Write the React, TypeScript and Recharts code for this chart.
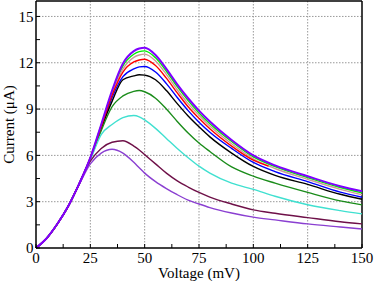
import React from 'react';
import { LineChart, Line, XAxis, YAxis, CartesianGrid, ReferenceLine } from 'recharts';

const voltage = [0, 5, 10, 15, 20, 25, 30, 35, 40, 45, 47.5, 50, 55, 60, 65, 70, 75, 80, 90, 100, 110, 125, 140, 150];
const redVoltage = [0, 5, 10, 15, 20, 25, 30, 35, 40, 45, 47.5, 50, 55, 60, 65, 70, 75, 80, 90, 100, 107];

const purple = [0, 0.65, 1.6, 2.75, 4.2, 5.85, 8.0, 10.2, 11.95, 12.75, 12.92, 12.97, 12.5, 11.6, 10.6, 9.7, 8.9, 8.2, 7.0, 6.0, 5.35, 4.65, 4.0, 3.68];
const green = [0, 0.65, 1.6, 2.75, 4.2, 5.85, 7.95, 10.1, 11.8, 12.55, 12.72, 12.77, 12.32, 11.45, 10.45, 9.55, 8.75, 8.05, 6.9, 5.9, 5.27, 4.56, 3.92, 3.57];
const rosy = [0, 0.65, 1.6, 2.75, 4.2, 5.85, 7.9, 10.0, 11.6, 12.35, 12.5, 12.56, 12.12, 11.25, 10.25, 9.35, 8.6, 7.9, 6.75, 5.78, 5.15, 4.45, 3.8, 3.45];
const red = [0, 0.65, 1.6, 2.75, 4.2, 5.84, 7.85, 9.9, 11.4, 12.05, 12.18, 12.23, 11.82, 11.0, 10.05, 9.15, 8.4, 7.72, 6.6, 5.69, 5.3];
const blue = [0, 0.65, 1.6, 2.75, 4.2, 5.82, 7.8, 9.75, 11.1, 11.6, 11.73, 11.76, 11.4, 10.65, 9.75, 8.9, 8.15, 7.5, 6.45, 5.54, 4.95, 4.3, 3.62, 3.29];
const black = [0, 0.65, 1.6, 2.75, 4.2, 5.8, 7.75, 9.5, 10.9, 11.15, 11.22, 11.2, 10.9, 10.2, 9.35, 8.55, 7.85, 7.2, 6.15, 5.28, 4.7, 4.12, 3.48, 3.16];
const darkGreen = [0, 0.65, 1.6, 2.75, 4.2, 5.78, 7.6, 9.15, 9.85, 10.15, 10.2, 10.12, 9.7, 9.0, 8.2, 7.45, 6.8, 6.25, 5.25, 4.65, 4.2, 3.6, 3.05, 2.79];
const cyan = [0, 0.65, 1.6, 2.75, 4.2, 5.72, 7.35, 8.0, 8.45, 8.58, 8.5, 8.3, 7.75, 7.1, 6.45, 5.85, 5.3, 4.85, 4.2, 3.8, 3.35, 2.8, 2.42, 2.21];
const maroon = [0, 0.65, 1.6, 2.75, 4.18, 5.62, 6.45, 6.85, 6.95, 6.6, 6.35, 6.05, 5.45, 4.85, 4.35, 3.95, 3.6, 3.3, 2.85, 2.47, 2.25, 1.97, 1.7, 1.56];
const violet = [0, 0.65, 1.6, 2.75, 4.15, 5.45, 6.15, 6.4, 6.15, 5.55, 5.2, 4.85, 4.3, 3.85, 3.45, 3.1, 2.85, 2.62, 2.27, 2.0, 1.82, 1.56, 1.36, 1.23];

const xTicks = [0, 12.5, 25, 37.5, 50, 62.5, 75, 87.5, 100, 112.5, 125, 137.5, 150];
const xMajor = [25, 50, 75, 100, 125];
const yTicks = [0, 1.5, 3, 4.5, 6, 7.5, 9, 10.5, 12, 13.5, 15];
const yMajor = [3, 6, 9, 12, 15];

const build = (xs: number[], ys: number[]) => xs.map((v, i) => ({ v, i: ys[i] }));

const series = [
  { name: 'green', values: green, color: '#00ee00', width: 1.4 },
  { name: 'rosy', values: rosy, color: '#cc9999', width: 1.4 },
  { name: 'blue', values: blue, color: '#0000ff', width: 1.4 },
  { name: 'black', values: black, color: '#000000', width: 1.4 },
  { name: 'darkGreen', values: darkGreen, color: '#1a8c1a', width: 1.4 },
  { name: 'cyan', values: cyan, color: '#40e0d0', width: 1.4 },
  { name: 'maroon', values: maroon, color: '#6e1048', width: 1.4 },
  { name: 'violet', values: violet, color: '#8a3fd1', width: 1.4 },
];

const FONT = "'Liberation Serif', Tinos, 'Times New Roman', Times, 'DejaVu Serif', serif";
const textStyle = { fontFamily: FONT, fontSize: 15, fill: '#000' };

const XTick = (props: any) => {
  const { x, y, payload } = props;
  const v = payload.value;
  if (v % 25 !== 0) return null;
  return (
    <text x={x} y={y} dy="0.71em" textAnchor="middle" style={textStyle}>
      {v}
    </text>
  );
};

const YTick = (props: any) => {
  const { x, y, payload } = props;
  const v = payload.value;
  if (v % 3 !== 0) return null;
  return (
    <text x={x} y={y} dy="0.355em" textAnchor="end" style={textStyle}>
      {v}
    </text>
  );
};

export default function App() {
  const table = build(voltage, purple);
  return (
    <div style={{ position: 'absolute', left: 0, top: 0, width: 374, height: 281, background: '#fff', fontFamily: FONT }}>
      <LineChart width={374} height={281} data={table} margin={{ top: 1, right: 12, left: 0, bottom: 0 }}>
        <CartesianGrid
          stroke="#999"
          strokeDasharray="1.5 1.5"
          verticalValues={xMajor}
          horizontalValues={yMajor}
        />
        <XAxis
          dataKey="v"
          type="number"
          domain={[0, 150]}
          ticks={xTicks}
          interval={0}
          height={33}
          tickSize={-4}
          tickMargin={8}
          tick={<XTick />}
          axisLine={{ stroke: '#000', strokeWidth: 1.5 }}
          tickLine={{ stroke: '#000' }}
          label={{ value: 'Voltage (mV)', position: 'insideBottom', offset: 3, style: textStyle }}
        />
        <YAxis
          type="number"
          domain={[0, 16]}
          ticks={yTicks}
          interval={0}
          width={36}
          tickSize={-4}
          tickMargin={6.5}
          tick={<YTick />}
          axisLine={{ stroke: '#000', strokeWidth: 1.5 }}
          tickLine={{ stroke: '#000' }}
          label={{ value: 'Current (μA)', angle: -90, position: 'insideLeft', offset: 9, style: { ...textStyle, textAnchor: 'middle' } }}
        />
        <ReferenceLine y={16} stroke="#000" strokeWidth={1.5} />
        <ReferenceLine x={150} stroke="#000" strokeWidth={1.5} />
        {series.map((s) => (
          <Line
            key={s.name}
            data={build(voltage, s.values)}
            dataKey="i"
            type="monotone"
            stroke={s.color}
            strokeWidth={s.width}
            dot={false}
            isAnimationActive={false}
          />
        ))}
        <Line
          data={build(redVoltage, red)}
          dataKey="i"
          type="monotone"
          stroke="#ff0000"
          strokeWidth={1.4}
          dot={false}
          isAnimationActive={false}
        />
        <Line
          data={table}
          dataKey="i"
          type="monotone"
          stroke="#7f00ff"
          strokeWidth={2}
          dot={false}
          isAnimationActive={false}
        />
      </LineChart>
    </div>
  );
}
